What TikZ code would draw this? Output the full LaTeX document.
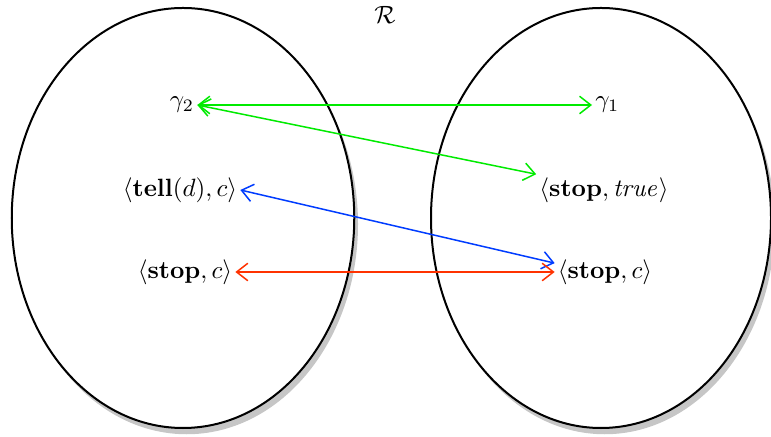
\documentclass[tikz,border=0pt]{standalone}
\usepackage{amsmath}
\usetikzlibrary{shapes,arrows.meta,positioning,calc,shadows}

\definecolor{relgreen}{RGB}{0,235,0}
\definecolor{relblue}{RGB}{0,60,255}
\definecolor{relred}{RGB}{255,50,0}

\begin{document}
\begin{tikzpicture}[x=0.4pt, y=-0.4pt, <->, >={Straight Barb[length=4.5pt,width=7pt]}, semithick]
\tikzstyle{set}=[ellipse, draw=black, thick, fill=white, inner sep=0pt, outer sep=0pt,
  drop shadow={shadow xshift=1.5pt, shadow yshift=-2.5pt, opacity=0.45}]
\tikzstyle{conf}=[inner sep=1pt]

\useasboundingbox (0,0) rectangle (771,437);

% the two sets
\node[set, minimum width=137pt, minimum height=168pt] (lset) at (183,218) {};
\node[set, minimum width=136pt, minimum height=168pt] (rset) at (601,218) {};
\node (rel) at (385,15) {$\mathcal{R}$};

% configurations
\node[conf] (g2) at (182,105) {$\gamma_2$};
\node[conf] (tell) at (180,190) {$\langle\mathbf{tell}(d),c\rangle$};
\node[conf] (stopl) at (185,272) {$\langle\mathbf{stop},c\rangle$};
\node[conf, anchor=west] (g1) at (592,105) {$\gamma_1$};
\node[conf] (stoptrue) at (604,190) {$\langle\mathbf{stop},\mathit{true}\rangle$};
\node[conf] (stopr) at (605,272) {$\langle\mathbf{stop},c\rangle$};

% relation
\draw[relgreen] (g2.east) -- (g1.west);
\draw[relgreen] (g2.east) -- (stoptrue.north west);
\draw[relblue] (tell.east) -- (stopr.170);
\draw[relred] (stopl.east) -- (stopr.west);
\end{tikzpicture}
\end{document}
